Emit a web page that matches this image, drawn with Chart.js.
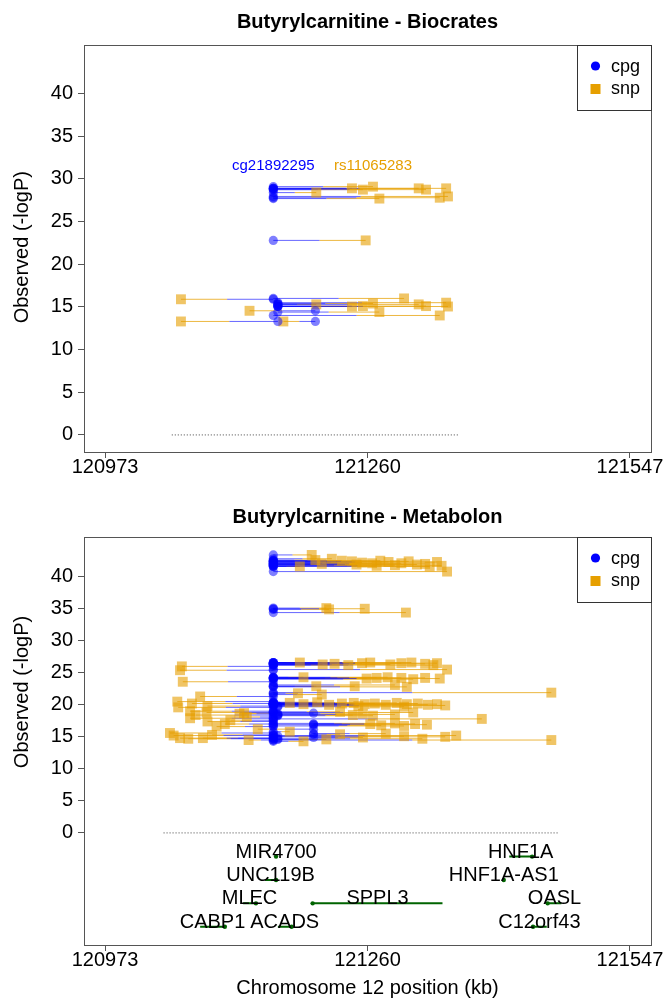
<!DOCTYPE html>
<html>
<head>
<meta charset="utf-8">
<title>Butyrylcarnitine</title>
<script src="https://cdn.jsdelivr.net/npm/chart.js@4.4.1/dist/chart.umd.min.js"></script>
<style>
  html, body { margin: 0; padding: 0; background: #fff; }
  #wrap { position: relative; width: 665px; height: 999px; }
  canvas { position: absolute; left: 0; }
  #bioChart { top: 0; }
  #metChart { top: 490px; }
</style>
</head>
<body>
<div id="wrap">
  <canvas id="bioChart" width="665" height="490"></canvas>
  <canvas id="metChart" width="665" height="509"></canvas>
</div>
<script>
// axis ticks, chromosome 12 position in kb
const xTicks = [120973, 121260, 121547];
const yTicks = [0, 5, 10, 15, 20, 25, 30, 35, 40];

// Biocrates: one entry per cpg - snp pair
const bioCpgPos = [121157, 121157, 121157, 121157, 121157, 121157, 121157, 121157, 121157, 121157, 121157,
                   121157, 121162, 121203, 121203, 121162, 121162, 121162, 121162, 121162, 121162, 121162,
                   121157, 121162, 121162, 121157];
const bioSnpPos = [121204, 121243, 121255, 121266, 121316, 121324, 121346, 121273, 121339, 121348, 121258,
                   121056, 121056, 121131, 121168, 121204, 121243, 121255, 121266, 121273, 121316, 121324,
                   121339, 121346, 121348, 121300];
const bioLogP = [28.4, 28.9, 28.75, 29.1, 28.9, 28.75, 28.9, 27.7, 27.8, 27.95, 22.8,
                 15.9, 13.3, 14.55, 13.3, 15.3, 15.05, 15.1, 15.4, 14.4, 15.3, 15.1,
                 14.0, 15.5, 15.05, 16.0];
const bioRegion = [121046, 121359];
const bioLeadCpg = 'cg21892295';
const bioLeadSnp = 'rs11065283';

// Metabolon: one entry per cpg - snp pair
const metCpgPos = [
  121157, 121157, 121157, 121157, 121157, 121157, 121157, 121157, 121157, 121157, 121157,
  121157, 121157, 121157, 121157, 121157, 121157, 121157, 121157, 121157, 121157, 121157,
  121157, 121157, 121157, 121157,
  121157, 121157, 121157, 121157, 121157, 121157, 121157, 121157, 121157, 121157, 121157,
  121157, 121157, 121157, 121157, 121157,
  121157, 121157, 121157, 121157, 121157, 121157, 121157, 121157, 121157, 121157, 121157,
  121157, 121157, 121157, 121157,
  121157, 121157, 121157, 121157, 121157, 121157, 121157, 121157, 121157, 121157, 121157,
  121157, 121157, 121157, 121157, 121157, 121157, 121157, 121157, 121157, 121162, 121162,
  121157, 121157, 121157, 121157, 121157, 121157, 121162, 121162, 121162, 121162, 121157,
  121157, 121157,
  121201, 121201, 121157, 121157, 121201, 121157, 121157, 121157, 121157, 121157, 121201,
  121201,
  121157, 121157, 121157, 121157, 121157, 121157, 121157, 121157, 121157, 121201, 121201,
  121201, 121162, 121162, 121162, 121157, 121157, 121157
];
const metSnpPos = [
  121199, 121186, 121221, 121232, 121243, 121254, 121265, 121274, 121283, 121297, 121314,
  121323, 121336, 121341, 121347, 121210, 121290, 121305, 121328, 121270, 121248, 121203,
  121215, 121218, 121257, 121302,
  121057, 121055, 121058, 121186, 121211, 121224, 121239, 121254, 121263, 121285, 121297,
  121308, 121323, 121336, 121347, 121332,
  121190, 121259, 121270, 121282, 121297, 121310, 121323, 121339, 121204, 121246, 121290,
  121303, 121461, 121184, 121210,
  121052, 121053, 121077, 121068, 121085, 121175, 121190, 121205, 121218, 121232, 121245,
  121257, 121268, 121280, 121292, 121303, 121315, 121326, 121336, 121345, 121250, 121300,
  121066, 121072, 121084, 121120, 121128, 121110, 121244, 121255, 121266, 121290, 121385,
  121230, 121310,
  121263, 121275, 121290, 121300, 121312, 121325, 121066, 121085, 121104, 121095, 121125,
  121140,
  121044, 121048, 121055, 121064, 121080, 121090, 121345, 121357, 121461, 121230, 121255,
  121280, 121215, 121300, 121320, 121175, 121190, 121130
];
const metLogP = [
  43.4, 41.6, 42.8, 42.5, 42.4, 42.2, 42.1, 42.5, 42.3, 42.1, 41.9,
  42.0, 42.3, 41.7, 40.8, 42.0, 41.8, 42.4, 41.6, 41.7, 41.9, 42.6,
  35.1, 34.9, 35.0, 34.4,
  26.0, 25.4, 23.6, 26.6, 26.3, 26.4, 26.2, 26.5, 26.6, 26.3, 26.5,
  26.6, 26.4, 26.5, 25.5, 26.2,
  24.3, 24.1, 24.2, 24.3, 24.2, 24.0, 24.2, 24.1, 22.9, 22.9, 23.1,
  22.8, 21.9, 21.8, 21.6,
  20.5, 19.6, 21.3, 20.2, 19.8, 20.3, 20.1, 20.4, 20.0, 20.2, 20.3,
  20.1, 20.2, 20.0, 20.3, 20.1, 20.2, 20.0, 20.1, 19.9, 19.8, 19.7,
  19.0, 18.4, 18.8, 18.6, 18.1, 17.6, 18.4, 18.6, 18.3, 18.5, 17.8,
  18.9, 18.8,
  17.0, 16.8, 17.1, 16.7, 17.0, 16.9, 17.9, 17.4, 17.0, 16.6, 18.7,
  16.2,
  15.6, 15.2, 14.8, 14.7, 14.8, 15.3, 15.0, 15.2, 14.5, 15.4, 14.9,
  15.5, 14.6, 15.1, 14.7, 15.8, 14.3, 14.5
];
const metRegion = [121037, 121470];

// genes in the region (kb)
const geneNames = ['MIR4700', 'UNC119B', 'MLEC', 'SPPL3', 'CABP1', 'ACADS', 'HNF1A', 'HNF1A-AS1', 'OASL', 'C12orf43'];
const geneStart = [121159, 121148, 121124, 121200, 121077, 121162, 121415, 121408, 121457, 121440];
const geneEnd   = [121161, 121160, 121138, 121342, 121104, 121177, 121440, 121410, 121472, 121456];
const geneTss   = [121160, 121160, 121138, 121200, 121104, 121177, 121440, 121409, 121457, 121441];
const geneRow   = [0, 1, 2, 2, 3, 3, 0, 1, 2, 3];

const FONT = '"Liberation Sans", Arial, sans-serif';
const BLUE = 'rgba(0, 0, 255, 0.5)';
const ORANGE = 'rgba(230, 159, 0, 0.6)';
const BLUE_LINE = 'rgba(0, 0, 255, 0.6)';
const ORANGE_LINE = 'rgba(230, 159, 0, 0.75)';
const GENE_GREEN = '#006400';

Chart.defaults.font.family = FONT;
Chart.defaults.color = '#000';

function geneY(row) {
  return -3.7 - row * 3.65;
}

// each pair is drawn as two halves, blue from the cpg, orange from the snp
function halfSegments(cpgPos, snpPos, logP, cpgSide) {
  const pts = [];
  for (let i = 0; i < logP.length; i++) {
    const mid = (cpgPos[i] + snpPos[i]) / 2;
    const end = cpgSide ? cpgPos[i] : snpPos[i];
    pts.push({x: end, y: logP[i]}, {x: mid, y: logP[i]}, {x: mid, y: null});
  }
  return pts;
}

function pairDatasets(cpgPos, snpPos, logP, region) {
  return [
    {
      type: 'scatter', data: cpgPos.map((p, i) => ({x: p, y: logP[i]})),
      pointStyle: 'circle', pointRadius: 4.6, backgroundColor: BLUE, borderWidth: 0, order: 0
    },
    {
      type: 'scatter', data: snpPos.map((p, i) => ({x: p, y: logP[i]})),
      pointStyle: 'rect', pointRadius: 7, backgroundColor: ORANGE, borderWidth: 0, order: 1
    },
    {
      type: 'line', data: halfSegments(cpgPos, snpPos, logP, true),
      borderColor: BLUE_LINE, borderWidth: 1, pointRadius: 0, spanGaps: false, order: 2
    },
    {
      type: 'line', data: halfSegments(cpgPos, snpPos, logP, false),
      borderColor: ORANGE_LINE, borderWidth: 1, pointRadius: 0, spanGaps: false, order: 2
    },
    {
      type: 'line', data: [{x: region[0], y: 0}, {x: region[1], y: 0}],
      borderColor: '#444', borderWidth: 1, borderDash: [1, 2], pointRadius: 0, order: 3
    }
  ];
}

function geneDatasets() {
  const lines = [];
  geneNames.forEach((g, i) => {
    const y = geneY(geneRow[i]);
    lines.push({x: geneStart[i], y: y}, {x: geneEnd[i], y: y}, {x: geneEnd[i], y: null});
  });
  return [
    {
      type: 'line', data: lines, borderColor: GENE_GREEN, borderWidth: 2,
      pointRadius: 0, spanGaps: false, order: 4
    },
    {
      type: 'scatter', data: geneTss.map((p, i) => ({x: p, y: geneY(geneRow[i])})),
      pointRadius: 2.2, backgroundColor: GENE_GREEN, borderWidth: 0, order: 4
    }
  ];
}

// box, titles, legend and labels drawn around the plot area
const panelDecor = {
  id: 'panelDecor',
  afterDraw(chart, args, opts) {
    const {ctx, chartArea: a} = chart;
    const x = chart.scales.x, y = chart.scales.y;
    ctx.save();

    ctx.strokeStyle = '#555';
    ctx.lineWidth = 1;
    ctx.strokeRect(a.left + 0.5, a.top + 0.5, a.right - a.left, a.bottom - a.top);

    ctx.fillStyle = '#000';
    ctx.textAlign = 'center';
    ctx.textBaseline = 'middle';
    ctx.font = 'bold 20px ' + FONT;
    ctx.fillText(opts.title, (a.left + a.right) / 2, opts.titleY);

    ctx.font = '20px ' + FONT;
    ctx.save();
    ctx.translate(22, y.getPixelForValue(22));
    ctx.rotate(-Math.PI / 2);
    ctx.fillText('Observed (-logP)', 0, 0);
    ctx.restore();

    if (opts.xTitle) {
      ctx.fillText(opts.xTitle, (a.left + a.right) / 2, opts.xTitleY);
    }

    // legend
    const lx = 577, ly = a.top;
    ctx.fillStyle = '#fff';
    ctx.fillRect(lx, ly, a.right - lx, 65);
    ctx.strokeStyle = '#333';
    ctx.strokeRect(lx + 0.5, ly + 0.5, a.right - lx, 65);
    ctx.fillStyle = '#0000ff';
    ctx.beginPath();
    ctx.arc(lx + 18.5, ly + 21, 4.6, 0, Math.PI * 2);
    ctx.fill();
    ctx.fillStyle = '#e69f00';
    ctx.fillRect(lx + 13.5, ly + 39, 10, 10);
    ctx.fillStyle = '#000';
    ctx.font = '18px ' + FONT;
    ctx.textAlign = 'left';
    ctx.fillText('cpg', lx + 34, ly + 22);
    ctx.fillText('snp', lx + 34, ly + 44);

    // lead pair labels
    if (opts.lead) {
      const L = opts.lead;
      let k = 0;
      L.logP.forEach((v, i) => { if (v > L.logP[k]) k = i; });
      const py = y.getPixelForValue(L.logP[k]) - 21;
      ctx.font = '15px ' + FONT;
      ctx.textAlign = 'center';
      ctx.fillStyle = '#0000ff';
      ctx.fillText(L.cpgName, x.getPixelForValue(L.cpgPos[k]), py);
      ctx.fillStyle = '#e69f00';
      ctx.fillText(L.snpName, x.getPixelForValue(L.snpPos[k]), py);
    }

    // gene names
    if (opts.genes) {
      ctx.fillStyle = '#000';
      ctx.font = '20px ' + FONT;
      ctx.textAlign = 'center';
      ctx.textBaseline = 'alphabetic';
      geneNames.forEach((g, i) => {
        const gx = x.getPixelForValue((geneStart[i] + geneEnd[i]) / 2);
        const gy = y.getPixelForValue(geneY(geneRow[i])) + 1;
        ctx.fillText(g, gx, gy);
      });
    }
    ctx.restore();
  }
};

function makeScales(yMin, yMax, xHeight) {
  return {
    x: {
      type: 'linear', min: 120950, max: 121570,
      afterBuildTicks: s => { s.ticks = xTicks.map(v => ({value: v})); },
      afterFit: s => { s.height = xHeight; },
      ticks: {font: {size: 20}, color: '#000', padding: -3, maxRotation: 0, callback: v => String(v)},
      grid: {drawOnChartArea: false, drawTicks: true, tickLength: 6, color: '#555'},
      border: {display: true, color: '#555'}
    },
    y: {
      type: 'linear', min: yMin, max: yMax,
      afterBuildTicks: s => { s.ticks = yTicks.map(v => ({value: v})); },
      afterFit: s => { s.width = 84; },
      ticks: {font: {size: 20}, color: '#000', padding: 5, callback: v => String(v)},
      grid: {drawOnChartArea: false, drawTicks: true, tickLength: 6, color: '#555'},
      border: {display: true, color: '#555'}
    }
  };
}

function baseOptions(yMin, yMax, xHeight, top, decor) {
  return {
    responsive: false,
    animation: false,
    events: [],
    layout: {padding: {left: 0, top: top, right: 14, bottom: 0}},
    plugins: {legend: {display: false}, tooltip: {enabled: false}, panelDecor: decor},
    scales: makeScales(yMin, yMax, xHeight)
  };
}

new Chart(document.getElementById('bioChart'), {
  type: 'scatter',
  data: {datasets: pairDatasets(bioCpgPos, bioSnpPos, bioLogP, bioRegion)},
  options: baseOptions(-2, 45.7, 38, 45, {
    title: 'Butyrylcarnitine - Biocrates', titleY: 22,
    lead: {cpgPos: bioCpgPos, snpPos: bioSnpPos, logP: bioLogP, cpgName: bioLeadCpg, snpName: bioLeadSnp}
  }),
  plugins: [panelDecor]
});

new Chart(document.getElementById('metChart'), {
  type: 'scatter',
  data: {datasets: pairDatasets(metCpgPos, metSnpPos, metLogP, metRegion).concat(geneDatasets())},
  options: baseOptions(-17.5, 46.2, 54, 47, {
    title: 'Butyrylcarnitine - Metabolon', titleY: 27,
    xTitle: 'Chromosome 12 position (kb)', xTitleY: 498,
    genes: true
  }),
  plugins: [panelDecor]
});
</script>
</body>
</html>
